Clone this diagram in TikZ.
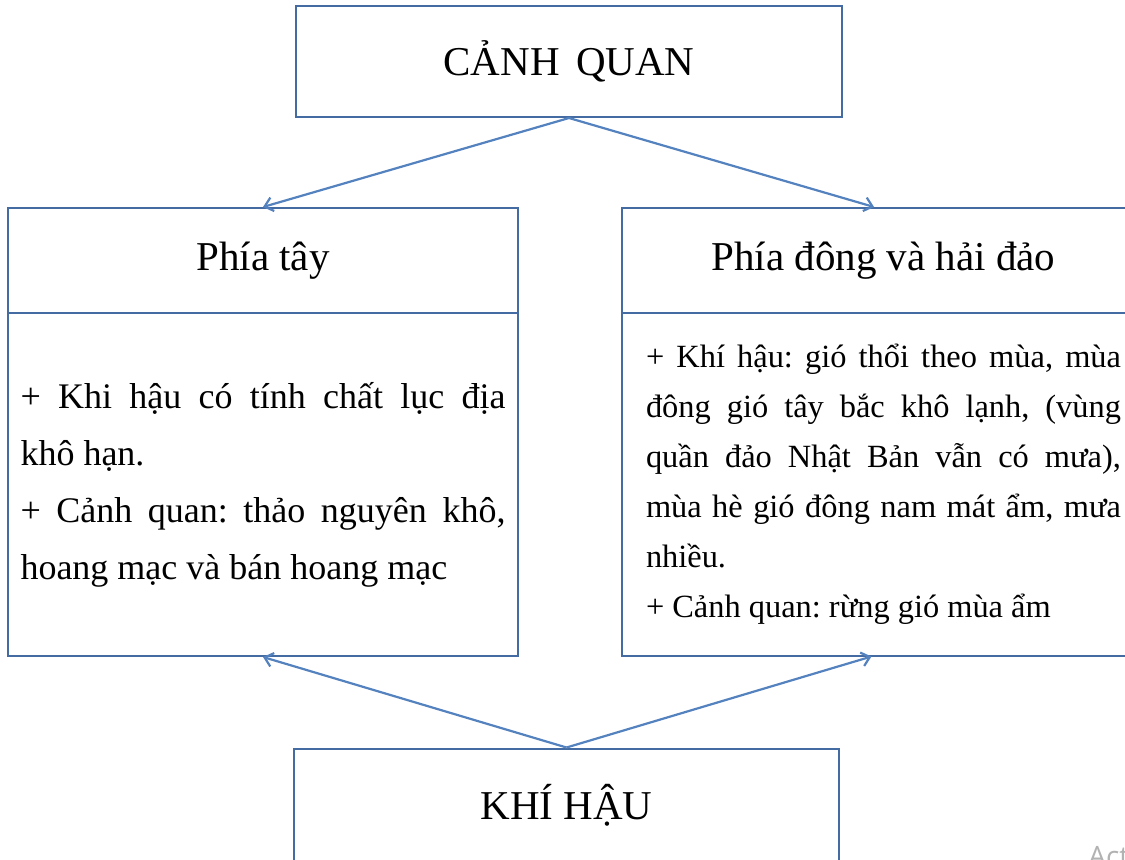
\documentclass[tikz,border=0pt]{standalone}
\usepackage{fontspec}
\setmainfont{Liberation Serif}
\newfontfamily\wmfont{Open Sans}
\usepackage{xcolor}
\definecolor{frameblue}{RGB}{68,108,163}
\definecolor{arrowblue}{RGB}{84,130,190}
\usetikzlibrary{arrows.meta, positioning}
\frenchspacing

\begin{document}
\begin{tikzpicture}[
    x=0.5pt, y=-0.5pt,
    box/.style={rectangle, draw=frameblue, line width=1pt, inner sep=0pt, align=center},
    headbox/.style={box, minimum height=52.5pt, font=\fontsize{20.5}{24}\selectfont},
    bodybox/.style={box, minimum height=171.5pt, align=justify},
    arrow/.style={-{Straight Barb[length=4pt, width=7pt]}, draw=arrowblue, line width=1.1pt}
]
    \useasboundingbox (0,0) rectangle (1125,859);
    \clip (0,0) rectangle (1125,859);

    % Top and bottom
    \node[headbox, minimum width=273pt, minimum height=55.5pt] (canh) at (569, 61.5) {CẢNH\hspace{0.4em}QUAN};
    \node[headbox, minimum width=272.5pt, minimum height=57pt] (khi) at (566.5, 805.5) {KHÍ HẬU};

    % West side
    \node[headbox, minimum width=255pt] (tay) at (263, 260.5) {Phía tây};
    \node[bodybox, minimum width=255pt, text width=242.5pt, font=\fontsize{18}{28.5}\selectfont] (taybody) at (263, 484.5)
        {+ Khi hậu có tính chất lục địa\linebreak khô hạn.\\
         + Cảnh quan: thảo nguyên khô,\linebreak hoang mạc và bán hoang mạc};

    % East side and islands
    \node[headbox, minimum width=261.5pt] (dong) at (883.5, 260.5) {Phía đông và hải đảo};
    \node[bodybox, minimum width=261.5pt, text width=237.5pt, font=\fontsize{16.2}{25}\selectfont] (dongbody) at (883.5, 484)
        {+ Khí hậu: gió thổi theo mùa, mùa\linebreak đông gió tây bắc khô lạnh, (vùng\linebreak quần đảo Nhật Bản vẫn có mưa),\linebreak mùa hè gió đông nam mát ẩm, mưa\linebreak nhiều.\\
         + Cảnh quan: rừng gió mùa ẩm};

    % Arrows
    \draw[arrow] (canh.south) -- (tay.north);
    \draw[arrow] (canh.south) -- (dong.100);
    \draw[arrow] (khi.north) -- (taybody.south);
    \draw[arrow] (khi.north) -- (dongbody.266);

    % Watermark
    \node[anchor=base west, inner sep=0pt, text=black!30, font=\wmfont\fontsize{14}{16}\selectfont] (watermark) at (1088, 866) {Act};
\end{tikzpicture}
\end{document}
